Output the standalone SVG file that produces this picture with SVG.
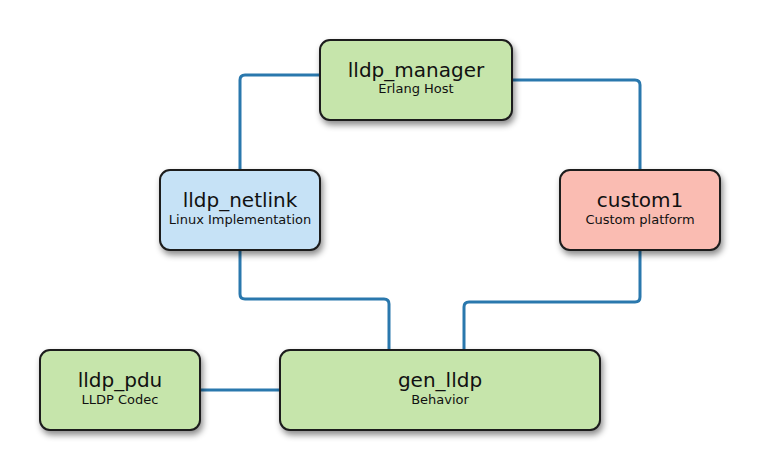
<svg xmlns="http://www.w3.org/2000/svg" width="760" height="471" viewBox="0 0 760 471">
<defs>
<filter id="sh" x="-20%" y="-20%" width="140%" height="150%">
<feDropShadow dx="2" dy="4" stdDeviation="3" flood-color="#000" flood-opacity="0.45"/>
</filter>
<style>
.box{stroke:#1c1c1c;stroke-width:2;filter:url(#sh)}
.g{fill:#c6e5ab}
.b{fill:#c6e2f6}
.p{fill:#fabcb2}
.t{font-family:"DejaVu Sans",sans-serif;font-size:20px;fill:#111;text-anchor:middle}
.s{font-family:"DejaVu Sans",sans-serif;font-size:13px;fill:#111;text-anchor:middle}
.c{fill:none;stroke:#2a78ad;stroke-width:3}
</style>
</defs>
<rect width="760" height="471" fill="#fff"/>
<g id="connectors">
<path class="c" d="M320,75 H245 Q240,75 240,80 V170"/>
<path class="c" d="M512,80 H635 Q640,80 640,85 V170"/>
<path class="c" d="M240,250 V294 Q240,299 245,299 H384 Q389,299 389,304 V350"/>
<path class="c" d="M640,250 V297 Q640,302 635,302 H469 Q464,302 464,307 V350"/>
<path class="c" d="M200,390 H280"/>
</g>
<g id="lldp_manager">
<rect class="box g" x="320" y="40" width="192" height="80" rx="10"/>
<text class="t" x="416" y="77">lldp_manager</text>
<text class="s" x="416" y="93">Erlang Host</text>
</g>
<g id="lldp_netlink">
<rect class="box b" x="160" y="170" width="160" height="80" rx="10"/>
<text class="t" x="240" y="207">lldp_netlink</text>
<text class="s" x="240" y="224">Linux Implementation</text>
</g>
<g id="custom1">
<rect class="box p" x="560" y="170" width="160" height="80" rx="10"/>
<text class="t" x="640" y="207">custom1</text>
<text class="s" x="640" y="224">Custom platform</text>
</g>
<g id="lldp_pdu">
<rect class="box g" x="40" y="350" width="160" height="80" rx="10"/>
<text class="t" x="120" y="387">lldp_pdu</text>
<text class="s" x="120" y="404">LLDP Codec</text>
</g>
<g id="gen_lldp">
<rect class="box g" x="280" y="350" width="320" height="80" rx="10"/>
<text class="t" x="440" y="387">gen_lldp</text>
<text class="s" x="440" y="404">Behavior</text>
</g>
</svg>
